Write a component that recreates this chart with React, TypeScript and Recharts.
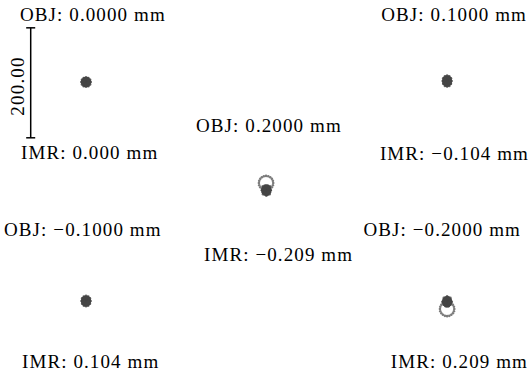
import { ScatterChart, Scatter, XAxis, YAxis, ReferenceLine } from "recharts";

// field labels
const OBJ_LABELS = ["OBJ: 0.0000 mm", "OBJ: 0.1000 mm", "OBJ: 0.2000 mm", "OBJ: −0.1000 mm", "OBJ: −0.2000 mm"];
const IMR_LABELS = ["IMR: 0.000 mm", "IMR: −0.104 mm", "IMR: −0.209 mm", "IMR: 0.104 mm", "IMR: 0.209 mm"];
const SCALE_UM = 200;
const SCALE_LABEL = "200.00";

// ray intercepts relative to chief ray, in µm  [x, y]
const CORE_1 = [[0, 0], [3, 0], [1.5, 2.6], [-1.5, 2.6], [-3, 0], [-1.5, -2.6], [1.5, -2.6], [5.5, 0], [4.4, 3.2], [1.7, 5.2], [-1.7, 5.2], [-4.4, 3.2], [-5.5, 0], [-4.4, -3.2], [-1.7, -5.2], [1.7, -5.2], [4.4, -3.2]];
const HALO_1 = [[8.5, 0], [7.4, 4.3], [4.3, 7.4], [0, 8.5], [-4.3, 7.4], [-7.4, 4.3], [-8.5, 0], [-7.4, -4.3], [-4.3, -7.4], [0, -8.5], [4.3, -7.4], [7.4, -4.3]];

const CORE_2 = [[0, 0], [3, 0], [1.5, 3.1], [-1.5, 3.1], [-3, 0], [-1.5, -3.1], [1.5, -3.1], [5.3, 0], [4.3, 3.9], [1.6, 6.3], [-1.6, 6.3], [-4.3, 3.9], [-5.3, 0], [-4.3, -3.9], [-1.6, -6.3], [1.6, -6.3], [4.3, -3.9]];
const HALO_2 = [[8, 0], [7, 5], [4, 8.8], [0, 10], [-4, 8.8], [-7, 5], [-8, 0], [-7, -5], [-4, -8.8], [0, -10], [4, -8.8], [7, -5]];

const CORE_3 = [[0.5, -13], [3.5, -13], [2, -9.9], [-1, -9.9], [-2.5, -13], [-1, -16.1], [2, -16.1], [6, -13], [5, -9.2], [2.2, -6.7], [-1.2, -6.7], [-4, -9.2], [-5, -13], [-4, -16.8], [-1.2, -19.3], [2.2, -19.3], [5, -16.8]];
const HALO_3 = [[8.5, -13], [-7.5, -13], [0.5, -23], [6.5, -20.5], [-5.5, -20.5], [7, -6], [-6, -6]];
const RING_3 = [[13, 0], [12.4, 4], [10.5, 7.6], [7.6, 10.5], [4, 12.4], [0, 13], [-4, 12.4], [-7.6, 10.5], [-10.5, 7.6], [-12.4, 4], [-13, 0], [-12.4, -4], [-10.5, -7.6], [-7.6, -10.5], [-4, -12.4], [0, -13], [4, -12.4], [7.6, -10.5], [10.5, -7.6], [12.4, -4]];

const CORE_4 = [[0, 0], [3, 0], [1.5, 2.9], [-1.5, 2.9], [-3, 0], [-1.5, -2.9], [1.5, -2.9], [5.4, 0], [4.4, 3.6], [1.7, 5.9], [-1.7, 5.9], [-4.4, 3.6], [-5.4, 0], [-4.4, -3.6], [-1.7, -5.9], [1.7, -5.9], [4.4, -3.6]];
const HALO_4 = [[8.2, 0], [7.1, 4.8], [4.1, 8.3], [0, 9.5], [-4.1, 8.3], [-7.1, 4.8], [-8.2, 0], [-7.1, -4.8], [-4.1, -8.3], [0, -9.5], [4.1, -8.3], [7.1, -4.8]];

const CORE_5 = [[0, 13], [3, 13], [1.5, 16.1], [-1.5, 16.1], [-3, 13], [-1.5, 9.9], [1.5, 9.9], [5.5, 13], [4.5, 16.8], [1.7, 19.3], [-1.7, 19.3], [-4.5, 16.8], [-5.5, 13], [-4.5, 9.2], [-1.7, 6.7], [1.7, 6.7], [4.5, 9.2]];
const HALO_5 = [[8.5, 13], [-8.5, 13], [0, 23], [6, 20.5], [-6, 20.5]];
const RING_5 = [[13, 0], [12.4, -4], [10.5, -7.6], [7.6, -10.5], [4, -12.4], [0, -13], [-4, -12.4], [-7.6, -10.5], [-10.5, -7.6], [-12.4, -4], [-13, 0], [-12.4, 4], [-10.5, 7.6], [-7.6, 10.5], [-4, 12.4], [0, 13], [4, 12.4], [7.6, 10.5], [10.5, 7.6], [12.4, 4]];

// layout: where each spot sits on the page, in µm of the plot
const X_SPAN = 967;
const Y_SPAN = 682;
const CENTERS = [[156.4, 532.7], [812.7, 534.5], [483.6, 349.1], [156.4, 134.5], [812.7, 120]];
const BAR_X = 55.8;
const BAR_Y0 = 431.4;
const CAP = 8.2;

const FIELDS = [
  { core: CORE_1, halo: HALO_1, ring: [] as number[][] },
  { core: CORE_2, halo: HALO_2, ring: [] as number[][] },
  { core: CORE_3, halo: HALO_3, ring: RING_3 },
  { core: CORE_4, halo: HALO_4, ring: [] as number[][] },
  { core: CORE_5, halo: HALO_5, ring: RING_5 },
];

const place = (pts: number[][], i: number) =>
  pts.map(([dx, dy]) => ({ x: CENTERS[i][0] + dx, y: CENTERS[i][1] + dy }));

const dot = (r: number, fill: string) => (p: any) =>
  <circle cx={p.cx} cy={p.cy} r={r} fill={fill} />;

const TEXTS = [
  { t: OBJ_LABELS[0], x: 20, y: 21, a: "start" },
  { t: OBJ_LABELS[1], x: 527, y: 21, a: "end" },
  { t: OBJ_LABELS[2], x: 196, y: 132, a: "start" },
  { t: IMR_LABELS[0], x: 21, y: 159, a: "start" },
  { t: IMR_LABELS[1], x: 529, y: 160, a: "end" },
  { t: OBJ_LABELS[3], x: 4, y: 236, a: "start" },
  { t: OBJ_LABELS[4], x: 521, y: 236, a: "end" },
  { t: IMR_LABELS[2], x: 204, y: 261, a: "start" },
  { t: IMR_LABELS[3], x: 22, y: 368, a: "start" },
  { t: IMR_LABELS[4], x: 528, y: 368, a: "end" },
];

const FONT = "'Liberation Serif', 'DejaVu Serif', serif";

export default function App() {
  return (
    <div style={{ position: "absolute", left: 0, top: 0, width: 532, height: 375, background: "#fff" }}>
      <ScatterChart width={532} height={375} margin={{ top: 0, right: 0, bottom: 0, left: 0 }}>
        <XAxis type="number" dataKey="x" domain={[0, X_SPAN]} hide />
        <YAxis type="number" dataKey="y" domain={[0, Y_SPAN]} hide />
        <ReferenceLine segment={[{ x: BAR_X, y: BAR_Y0 }, { x: BAR_X, y: BAR_Y0 + SCALE_UM }]} stroke="#000" strokeWidth={1.5} ifOverflow="visible" />
        <ReferenceLine segment={[{ x: BAR_X - CAP, y: BAR_Y0 }, { x: BAR_X + CAP, y: BAR_Y0 }]} stroke="#000" strokeWidth={1.5} ifOverflow="visible" />
        <ReferenceLine segment={[{ x: BAR_X - CAP, y: BAR_Y0 + SCALE_UM }, { x: BAR_X + CAP, y: BAR_Y0 + SCALE_UM }]} stroke="#000" strokeWidth={1.5} ifOverflow="visible" />
        {FIELDS.map((f, i) => (
          <Scatter key={"r" + i} data={place(f.ring, i)} shape={dot(1.3, "#7c7c7c")} isAnimationActive={false} />
        ))}
        {FIELDS.map((f, i) => (
          <Scatter key={"h" + i} data={place(f.halo, i)} shape={dot(1.3, "#707070")} isAnimationActive={false} />
        ))}
        {FIELDS.map((f, i) => (
          <Scatter key={"c" + i} data={place(f.core, i)} shape={dot(2.4, "#454545")} isAnimationActive={false} />
        ))}
      </ScatterChart>
      <svg width={532} height={375} style={{ position: "absolute", left: 0, top: 0, pointerEvents: "none" }}>
        {TEXTS.map((d) => (
          <text key={d.t} x={d.x} y={d.y} textAnchor={d.a} fontFamily={FONT} fontSize={19} letterSpacing={1.1} fill="#000">
            {d.t}
          </text>
        ))}
        <text x={24} y={86} transform="rotate(-90 24 86)" textAnchor="middle" fontFamily={FONT} fontSize={19} letterSpacing={1.2} fill="#000">
          {SCALE_LABEL}
        </text>
      </svg>
    </div>
  );
}
